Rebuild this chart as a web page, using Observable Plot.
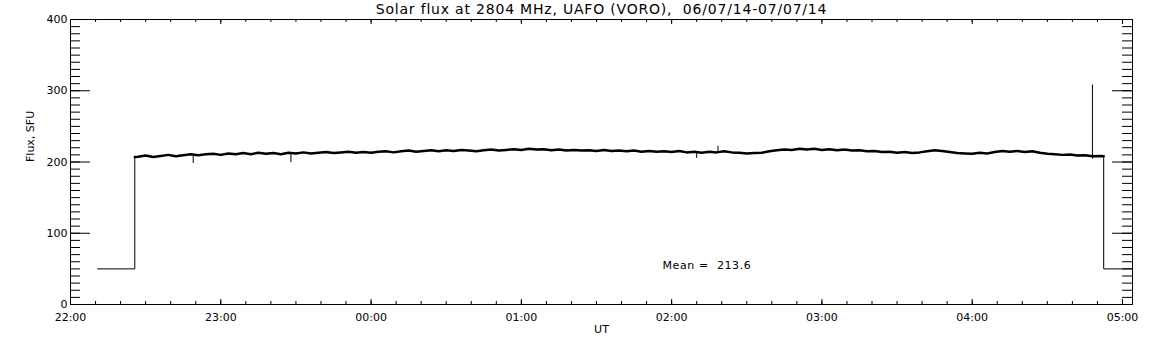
<!DOCTYPE html>
<html>
<head>
<meta charset="utf-8">
<script src="https://cdn.jsdelivr.net/npm/d3@7"></script>
<script src="https://cdn.jsdelivr.net/npm/@observablehq/plot@0.6"></script>
<style>
  body { margin: 0; background: #fff; }
  svg { font-family: "DejaVu Sans", sans-serif; }
</style>
</head>
<body>
<div id="chart"></div>
<script>
// ---- Data ----
const titleText = "Solar flux at 2804 MHz, UAFO (VORO),  06/07/14-07/07/14";
const xLabel = "UT";
const yLabel = "Flux, SFU";
const meanLabel = "Mean =  213.6";
const meanAt = ["01:56:20", 55];

// x domain (UT), tick labels
const xDomain = ["22:00:00", "05:04:00"];
const yDomain = [0, 400];
const yTickLabels = [0, 100, 200, 300, 400];

// off-sun baseline before/after the observation window
const leadTimes = ["22:10:50", "22:25:40", "22:25:40"];
const leadFlux = [50, 50, 207];
const tailTimes = ["04:52:30", "04:52:30", "05:04:00"];
const tailFlux = [208, 50, 50];

// main record, sampled every 3 minutes from 22:27
const bodyStart = "22:27:00";
const bodyStepMinutes = 3;
const bodyFlux = [
  207.5, 209, 207, 208.5, 210, 208, 209.5, 211, 209.5, 211,
  211.5, 210, 212, 211, 212.5, 211, 213, 211.5, 212.5, 211,
  213, 212, 213.5, 212, 213, 214, 212.5, 213.5, 214.5, 213,
  214, 213, 214.5, 215, 213.5, 215, 216, 214.5, 215.5, 216.5,
  215, 216.5, 215.5, 217, 216, 215, 216.5, 217.5, 216, 217,
  218, 217, 218.5, 217.5, 218, 216.5, 217.5, 216, 217, 216,
  216.5, 215.5, 217, 215.5, 216, 215, 216, 214.5, 215.5, 214.5,
  215, 214, 215.5, 213.5, 214.5, 213, 214.5, 213.5, 215, 213.5,
  213, 212, 212.5, 213, 215, 216.5, 217.5, 217, 218.5, 217.5,
  218.5, 217, 218, 216.5, 217.5, 216, 216.5, 215, 215.5, 214,
  214.5, 213, 214, 212.5, 213.5, 215, 216.5, 215.5, 214, 212.5,
  212, 211.5, 213, 212, 214, 215.5, 214.5, 215.5, 214, 215,
  213, 211.5, 211, 210, 210.5, 209, 209.5, 208, 208.5
];

// short spikes
const spikeTimes = ["22:49:00", "23:28:00", "02:10:00", "02:18:30", "04:48:00"];
const spikeLow   = [198, 199, 205, 213, 204];
const spikeHigh  = [210, 212, 214, 222, 308];

// ---- helpers ----
const toDate = (s) => {
  const [h, m, sec] = s.split(":").map(Number);
  const day = h >= 12 ? 6 : 7;
  return new Date(Date.UTC(2014, 6, day, h, m, sec || 0));
};

const bodyT0 = toDate(bodyStart);
const series = [
  ...leadTimes.map((t, i) => ({t: toDate(t), v: leadFlux[i]})),
  ...bodyFlux.map((v, i) => ({t: new Date(+bodyT0 + i * bodyStepMinutes * 60000), v})),
  ...tailTimes.map((t, i) => ({t: toDate(t), v: tailFlux[i]}))
];
const bodySeries = series.slice(leadTimes.length - 1, series.length - tailTimes.length + 1);
const spikes = spikeTimes.map((t, i) => ({t: toDate(t), lo: spikeLow[i], hi: spikeHigh[i]}));
const meanData = [{t: toDate(meanAt[0]), v: meanAt[1], label: meanLabel}];

const x0 = toDate(xDomain[0]), x1 = toDate(xDomain[1]);
const minorX = d3.utcMinute.every(10).range(x0, x1);
const majorX = d3.utcHour.every(1).range(x0, x1);
const minorY = d3.range(yDomain[0], yDomain[1] + 1, 10);
const majorY = yTickLabels;

const W = 1152, H = 345;
const mL = 70, mR = 20, mT = 19, mB = 41;
const pw = W - mL - mR, ph = H - mT - mB;

const chart = Plot.plot({
  width: W,
  height: H,
  marginLeft: mL,
  marginRight: mR,
  marginTop: mT,
  marginBottom: mB,
  style: {fontFamily: "DejaVu Sans, sans-serif", fontSize: "11px", color: "black", background: "white"},
  x: {type: "utc", domain: [x0, x1]},
  y: {domain: yDomain},
  marks: [
    Plot.frame({stroke: "black"}),
    Plot.tickX(minorX, {x: d => d, insetTop: ph - 3, stroke: "black"}),
    Plot.tickX(majorX, {x: d => d, insetTop: ph - 5, stroke: "black"}),
    Plot.tickX(minorX, {x: d => d, insetBottom: ph - 3, stroke: "black"}),
    Plot.tickX(majorX, {x: d => d, insetBottom: ph - 5, stroke: "black"}),
    Plot.tickY(minorY, {y: d => d, insetRight: pw - 10, stroke: "black"}),
    Plot.tickY(majorY, {y: d => d, insetRight: pw - 20, stroke: "black"}),
    Plot.tickY(minorY, {y: d => d, insetLeft: pw - 10, stroke: "black"}),
    Plot.tickY(majorY, {y: d => d, insetLeft: pw - 20, stroke: "black"}),
    Plot.axisX(majorX, {tickFormat: d3.utcFormat("%H:%M"), tickSize: 0, tickPadding: 9, label: null, fontSize: 11}),
    Plot.axisY(yTickLabels, {tickSize: 0, tickPadding: 3, label: null, fontSize: 11}),
    Plot.line(series, {x: "t", y: "v", stroke: "black", strokeWidth: 1}),
    Plot.line(bodySeries, {x: "t", y: "v", stroke: "black", strokeWidth: 2.5}),
    Plot.ruleX(spikes, {x: "t", y1: "lo", y2: "hi", stroke: "black", strokeWidth: 1}),
    Plot.text([titleText], {frameAnchor: "top", lineAnchor: "middle", dy: -10, fontSize: 14, fill: "black"}),
    Plot.text([xLabel], {frameAnchor: "bottom", lineAnchor: "middle", dy: 25, fontSize: 11, fill: "black"}),
    Plot.text([yLabel], {frameAnchor: "left", lineAnchor: "middle", dx: -40, rotate: -90, fontSize: 11, fill: "black"}),
    Plot.text(meanData, {x: "t", y: "v", text: "label", textAnchor: "start", fontSize: 11, fill: "black"})
  ]
});
// letter spacing to mimic the wide vector font
d3.select(chart).selectAll("text").each(function() {
  const t = this.textContent;
  if (t === titleText) this.setAttribute("letter-spacing", "0.8");
  if (t === meanLabel) this.setAttribute("letter-spacing", "0.6");
});
document.getElementById("chart").appendChild(chart);
</script>
</body>
</html>
